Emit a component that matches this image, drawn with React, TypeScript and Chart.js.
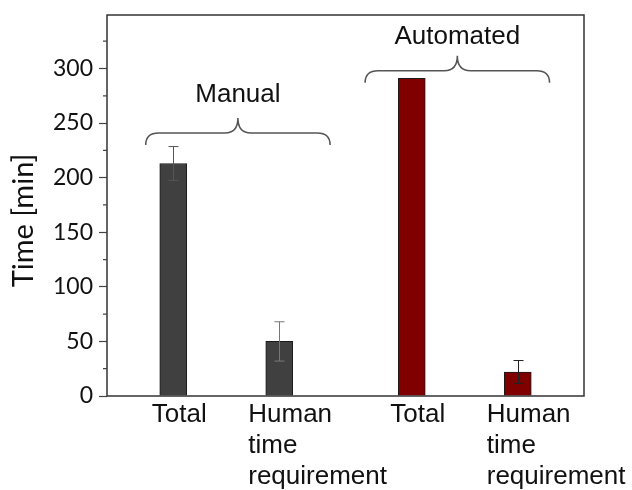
import React, { useEffect, useRef } from "react";
import { Chart, registerables } from "chart.js";

Chart.register(...registerables);

// ---- data ----
const categories = ["Total", "Human\ntime\nrequirement", "Total", "Human\ntime\nrequirement"];
const positions = [1, 2, 3.25, 4.25];
const values = [213, 50, 291, 22];
const errors = [15.5, 18, 0, 10.5];
const groupNames = ["Manual", "Automated"];
const braceFrom = [0.74, 2.81];
const braceTo = [2.48, 4.55];
const braceLevel = [241, 298];
const groupLabelLevel = [269, 322.5];
const yTickValues = [0, 50, 100, 150, 200, 250, 300];
const yMinorValues = [25, 75, 125, 175, 225, 275, 325];
const yTitle = "Time [min]";

// ---- styles ----
const barColors = ["#404040", "#404040", "#800000", "#800000"];
const errColors = ["#555555", "#777777", "#222222", "#222222"];
const LABEL_FONT = '26px "Liberation Sans", Arial, sans-serif';
const TITLE_FONT = '29px Lato, "Open Sans", sans-serif';

const overlay = {
  id: "overlay",
  afterDatasetsDraw(chart: any) {
    const { ctx, chartArea: a, scales } = chart;
    const x = scales.x;
    const y = scales.y;
    ctx.save();

    // error bars
    positions.forEach((p, i) => {
      if (!errors[i]) return;
      const px = Math.round(x.getPixelForValue(p)) + 0.5;
      const top = y.getPixelForValue(values[i] + errors[i]);
      const bot = y.getPixelForValue(values[i] - errors[i]);
      ctx.strokeStyle = errColors[i];
      ctx.lineWidth = 1;
      ctx.beginPath();
      ctx.moveTo(px, top);
      ctx.lineTo(px, bot);
      ctx.moveTo(px - 5, top);
      ctx.lineTo(px + 5, top);
      ctx.moveTo(px - 5, bot);
      ctx.lineTo(px + 5, bot);
      ctx.stroke();
    });

    // frame
    ctx.strokeStyle = "#333333";
    ctx.lineWidth = 1.5;
    ctx.strokeRect(a.left, a.top, a.right - a.left, a.bottom - a.top);

    // minor ticks
    ctx.lineWidth = 1.2;
    ctx.strokeStyle = "#444444";
    ctx.beginPath();
    yMinorValues.forEach((v) => {
      const py = y.getPixelForValue(v);
      ctx.moveTo(a.left - 4, py);
      ctx.lineTo(a.left, py);
    });
    ctx.stroke();

    // braces + group labels
    groupNames.forEach((name, i) => {
      const x1 = x.getPixelForValue(braceFrom[i]);
      const x2 = x.getPixelForValue(braceTo[i]);
      const xm = (x1 + x2) / 2;
      const yl = y.getPixelForValue(braceLevel[i]);
      const h = 12;
      const hp = 15;
      const r = 13;
      ctx.strokeStyle = "#555555";
      ctx.lineWidth = 1.5;
      ctx.beginPath();
      ctx.moveTo(x1, yl + h);
      ctx.quadraticCurveTo(x1, yl, x1 + r, yl);
      ctx.lineTo(xm - r, yl);
      ctx.quadraticCurveTo(xm, yl, xm, yl - hp);
      ctx.quadraticCurveTo(xm, yl, xm + r, yl);
      ctx.lineTo(x2 - r, yl);
      ctx.quadraticCurveTo(x2, yl, x2, yl + h);
      ctx.stroke();

      ctx.fillStyle = "#111111";
      ctx.font = LABEL_FONT;
      ctx.textAlign = "center";
      ctx.textBaseline = "alphabetic";
      ctx.fillText(name, xm, y.getPixelForValue(groupLabelLevel[i]));
    });

    // x category labels
    ctx.fillStyle = "#111111";
    ctx.font = LABEL_FONT;
    ctx.textBaseline = "alphabetic";
    categories.forEach((c, i) => {
      const px = x.getPixelForValue(positions[i]);
      const lines = c.split("\n");
      lines.forEach((ln, j) => {
        const by = a.bottom + 26 + j * 31;
        if (lines.length === 1) {
          ctx.textAlign = "center";
          ctx.fillText(ln, px + 6, by);
        } else {
          ctx.textAlign = "left";
          ctx.fillText(ln, px - 31, by);
        }
      });
    });

    // y title
    ctx.save();
    ctx.translate(33, (a.top + a.bottom) / 2 + 15);
    ctx.rotate(-Math.PI / 2);
    ctx.font = TITLE_FONT;
    ctx.fillStyle = "#111111";
    ctx.textAlign = "center";
    ctx.textBaseline = "alphabetic";
    ctx.fillText(yTitle, 0, 0);
    ctx.restore();

    ctx.restore();
  },
};

export default function App() {
  const ref = useRef<HTMLCanvasElement | null>(null);

  useEffect(() => {
    if (!ref.current) return;
    const chart = new Chart(ref.current, {
      type: "bar",
      data: {
        datasets: [
          {
            data: positions.map((p, i) => ({ x: p, y: values[i] })),
            backgroundColor: barColors,
            borderColor: "#1a1a1a",
            borderWidth: 1,
            barThickness: 27,
          },
        ],
      },
      options: {
        animation: false,
        responsive: false,
        layout: { padding: { top: 15, right: 48, bottom: 94, left: 0 } },
        plugins: {
          legend: { display: false },
          tooltip: { enabled: false },
        },
        scales: {
          x: {
            type: "linear",
            min: 0.375,
            max: 4.875,
            offset: false,
            display: false,
          },
          y: {
            type: "linear",
            min: 0,
            max: 349,
            afterFit: (s: any) => {
              s.width = 107;
              s.paddingTop = 0;
              s.paddingBottom = 0;
            },
            afterBuildTicks: (s: any) => {
              s.ticks = yTickValues.map((v) => ({ value: v }));
            },
            border: { display: false },
            grid: {
              display: true,
              drawOnChartArea: false,
              drawTicks: true,
              tickLength: 8,
              tickColor: "#444444",
              tickWidth: 1.2,
            },
            ticks: {
              padding: 6,
              color: "#111111",
              font: { family: 'Lato, "Open Sans", sans-serif', size: 23 },
            },
          },
        },
      },
      plugins: [overlay],
    });
    return () => chart.destroy();
  }, []);

  return (
    <div style={{ position: "absolute", left: 0, top: 0, width: 632, height: 490, background: "#fff" }}>
      <canvas ref={ref} width={632} height={490} style={{ display: "block" }} />
    </div>
  );
}
